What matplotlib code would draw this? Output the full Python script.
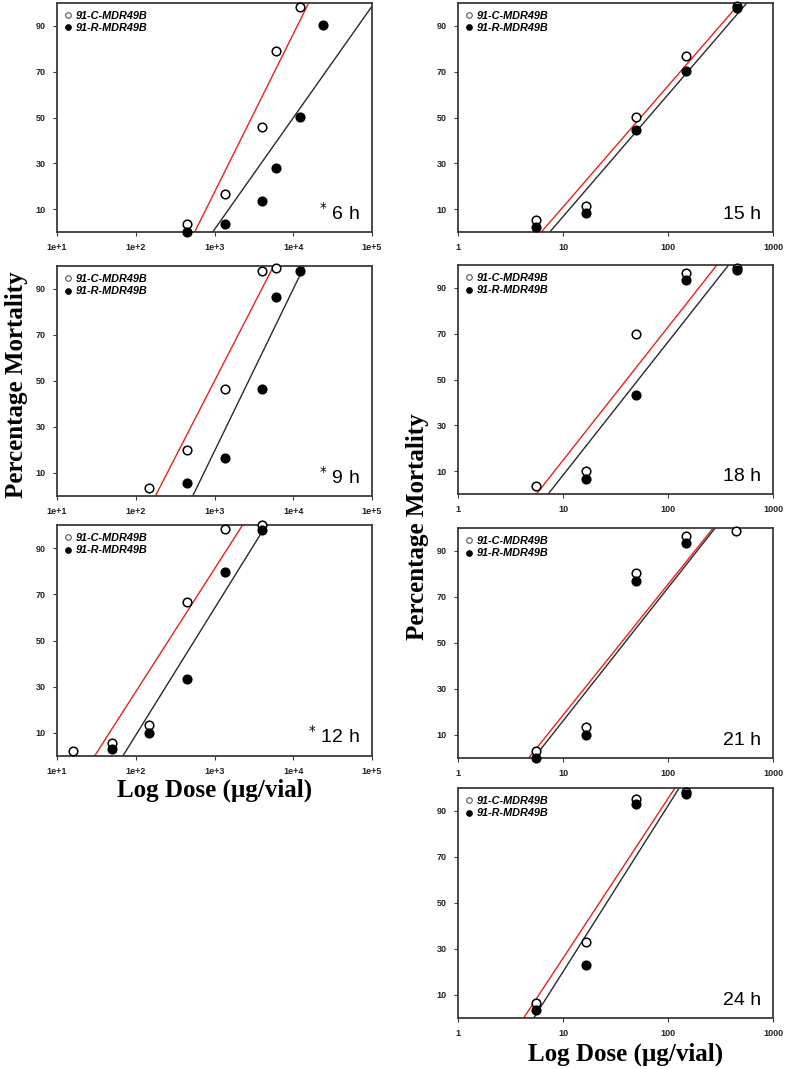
import numpy as np
import matplotlib
matplotlib.use("Agg")
import matplotlib.pyplot as plt

# ---------------- data ----------------
panel_labels = ["6 h", "9 h", "12 h", "15 h", "18 h", "21 h", "24 h"]
panel_star = [True, True, True, False, False, False, False]
series_names = ["91-C-MDR49B", "91-R-MDR49B"]

left_xticks = [1e1, 1e2, 1e3, 1e4, 1e5]
left_xticklabels = ["1e+1", "1e+2", "1e+3", "1e+4", "1e+5"]
right_xticks = [1, 10, 100, 1000]
right_xticklabels = ["1", "10", "100", "1000"]
yticks = [10, 30, 50, 70, 90]

# 6 h
c6_dose = [448, 1346, 4010, 5980, 12060]
c6_mort = [3.5, 16.8, 45.7, 79.1, 98.3]
r6_dose = [448, 1346, 4010, 5980, 12060, 24100]
r6_mort = [0.1, 3.5, 13.5, 27.9, 50.2, 90.3]
c6_fit = (-189.8, 69.06)   # intercept, slope vs log10(dose)
r6_fit = (-145.1, 48.74)

# 9 h
c9_dose = [149, 448, 1346, 4010, 5980]
c9_mort = [3.5, 20.0, 46.7, 97.7, 99.0]
r9_dose = [448, 1346, 4010, 5980, 12060]
r9_mort = [5.5, 16.7, 46.7, 86.7, 97.8]
c9_fit = (-149.8, 66.6)
r9_fit = (-192.0, 70.5)

# 12 h
c12_dose = [16, 50, 149, 448, 1346, 4010]
c12_mort = [2.1, 5.7, 13.5, 66.6, 98.2, 99.8]
r12_dose = [50, 149, 448, 1346, 4010]
r12_mort = [3.1, 10.0, 33.3, 79.7, 97.7]
c12_fit = (-78.6, 53.2)
r12_fit = (-100.8, 54.9)

# 15 h
c15_dose = [5.5, 16.7, 50, 148.5, 452]
c15_mort = [5.2, 11.2, 50.2, 76.9, 98.9]
r15_dose = [5.5, 16.7, 50, 148.5, 452]
r15_mort = [2.0, 8.1, 44.6, 70.3, 98.0]
c15_fit = (-42.0, 52.9)
r15_fit = (-46.6, 53.3)

# 18 h
c18_dose = [5.5, 16.7, 50, 148.5, 452]
c18_mort = [3.3, 10.0, 70.0, 96.7, 98.6]
r18_dose = [16.7, 50, 148.5, 452]
r18_mort = [6.7, 43.3, 93.3, 97.7]
c18_fit = (-43.5, 58.2)
r18_fit = (-50.0, 58.2)

# 21 h
c21_dose = [5.5, 16.7, 50, 148.5, 448]
c21_mort = [3.2, 13.5, 80.5, 96.5, 98.5]
r21_dose = [5.5, 16.7, 50, 148.5]
r21_mort = [0.0, 10.0, 77.0, 93.5]
c21_fit = (-38.3, 56.9)
r21_fit = (-41.8, 57.9)

# 24 h
c24_dose = [5.5, 16.5, 50, 148.5]
c24_mort = [6.7, 33.2, 95.1, 98.1]
r24_dose = [5.5, 16.5, 50, 148.5]
r24_mort = [3.5, 23.2, 93.0, 97.5]
c24_fit = (-43.4, 69.4)
r24_fit = (-52.1, 72.2)

panels = [
    (c6_dose, c6_mort, r6_dose, r6_mort, c6_fit, r6_fit),
    (c9_dose, c9_mort, r9_dose, r9_mort, c9_fit, r9_fit),
    (c12_dose, c12_mort, r12_dose, r12_mort, c12_fit, r12_fit),
    (c15_dose, c15_mort, r15_dose, r15_mort, c15_fit, r15_fit),
    (c18_dose, c18_mort, r18_dose, r18_mort, c18_fit, r18_fit),
    (c21_dose, c21_mort, r21_dose, r21_mort, c21_fit, r21_fit),
    (c24_dose, c24_mort, r24_dose, r24_mort, c24_fit, r24_fit),
]

# ---------------- layout ----------------
W, H = 787, 1069
fig = plt.figure(figsize=(W / 100, H / 100), dpi=100)

def rect(x0, x1, y0, y1):
    return [x0 / W, 1 - y1 / H, (x1 - x0) / W, (y1 - y0) / H]

rects = [
    rect(57, 372, 3, 232),
    rect(57, 372, 266, 496),
    rect(57, 372, 525, 756),
    rect(458, 773, 3, 232),
    rect(458, 773, 265, 494),
    rect(458, 773, 528, 758),
    rect(458, 773, 788, 1018),
]

sans = ["Liberation Sans", "DejaVu Sans"]
serif = ["Liberation Serif", "DejaVu Serif"]
spine_col = "#3a3a3a"

axes = []
for i, (cd, cm, rd, rm, cf, rf) in enumerate(panels):
    ax = fig.add_axes(rects[i])
    axes.append(ax)
    left = i < 3
    ax.set_xscale("log")
    if left:
        ax.set_xlim(1e1, 1e5)
        ax.set_xticks(left_xticks)
        ax.set_xticklabels(left_xticklabels)
    else:
        ax.set_xlim(1, 1000)
        ax.set_xticks(right_xticks)
        ax.set_xticklabels(right_xticklabels)
    ax.minorticks_off()
    ax.set_ylim(0, 100)
    ax.set_yticks(yticks)

    lx = np.logspace(np.log10(ax.get_xlim()[0]), np.log10(ax.get_xlim()[1]), 200)
    ax.plot(lx, cf[0] + cf[1] * np.log10(lx), color="#e8211c", lw=1.0, zorder=2)
    ax.plot(lx, rf[0] + rf[1] * np.log10(lx), color="#2a2a2a", lw=1.0, zorder=2)

    ax.plot(cd, cm, "o", ms=6.2, mfc="white", mec="black", mew=1.1,
            clip_on=False, zorder=4, label=series_names[0])
    ax.plot(rd, rm, "o", ms=6.2, mfc="black", mec="black", mew=1.1,
            clip_on=False, zorder=5, label=series_names[1])

    for s in ax.spines.values():
        s.set_color(spine_col)
        s.set_linewidth(1.3)
    ax.tick_params(direction="out", length=3, width=0.8, color=spine_col,
                   labelsize=6.5, pad=5, labelcolor="#222222")
    for lab in ax.get_xticklabels() + ax.get_yticklabels():
        lab.set_fontfamily(sans)
        lab.set_fontweight("bold")

    # legend
    h1 = plt.Line2D([], [], marker="o", ls="none", ms=4, mfc="white", mec="#555555", mew=0.8)
    h2 = plt.Line2D([], [], marker="o", ls="none", ms=4, mfc="black", mec="black", mew=0.8)
    ax.legend([h1, h2], series_names, loc="upper left", frameon=False,
              prop={"family": sans, "weight": "bold", "style": "italic", "size": 7.8},
              handlelength=0.6, handletextpad=0.4, labelspacing=0.25,
              borderaxespad=0.3, borderpad=0.4)

    star = r"$^{*}$ " if panel_star[i] else ""
    ax.text(0.962, 0.055, star + panel_labels[i], transform=ax.transAxes,
            ha="right", va="baseline", fontsize=14, family=sans)

# axis labels
lab_font = dict(family=serif, fontweight="bold", fontsize=18)
fig.text(((57 + 372) / 2) / W, 1 - 797 / H, "Log Dose (µg/vial)",
         ha="center", va="baseline", **lab_font)
fig.text(((458 + 773) / 2 + 10) / W, 1 - 1061 / H, "Log Dose (µg/vial)",
         ha="center", va="baseline", **lab_font)
fig.text(17 / W, 1 - 385 / H, "Percentage Mortality", rotation=90,
         ha="center", va="center", **lab_font)
fig.text(418 / W, 1 - 527 / H, "Percentage Mortality", rotation=90,
         ha="center", va="center", **lab_font)

fig.savefig("out.png", dpi=100)
